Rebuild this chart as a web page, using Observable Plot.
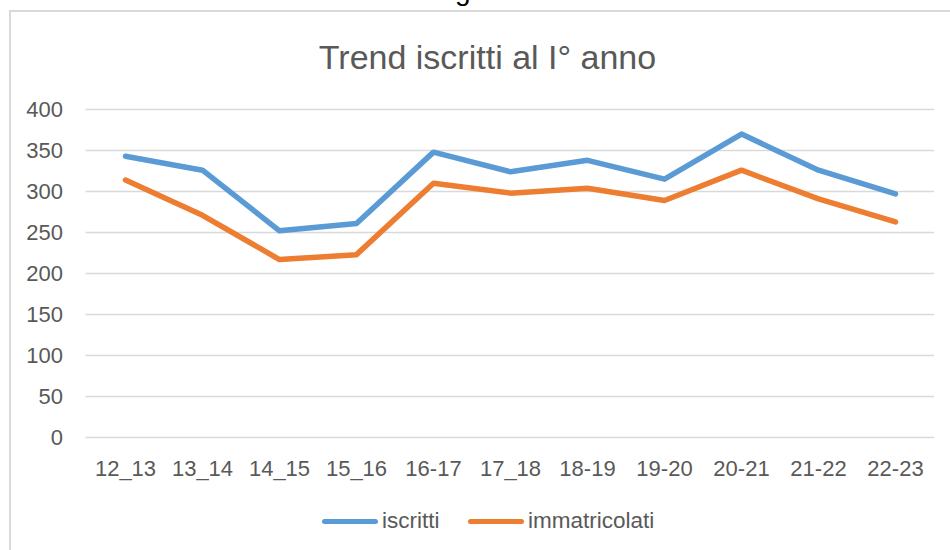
<!DOCTYPE html>
<html>
<head>
<meta charset="utf-8">
<script src="https://cdn.jsdelivr.net/npm/d3@7"></script>
<script src="https://cdn.jsdelivr.net/npm/@observablehq/plot@0.6"></script>
<style>
  html, body { margin: 0; padding: 0; background: #fff; }
  body { width: 950px; height: 550px; position: relative; overflow: hidden; font-family: "Liberation Sans", Arial, sans-serif; }
  #frame { position: absolute; left: 9px; top: 10px; width: 1000px; height: 600px; border-left: 2px solid #d9d9d9; border-top: 2px solid #d9d9d9; box-sizing: border-box; }
  #frag { position: absolute; left: 455px; top: -25px; font-size: 28px; line-height: 32px; color: #000; font-family: "Liberation Sans", Arial, sans-serif; }
  #title { position: absolute; left: 0; width: 975px; top: 37px; text-align: center; font-size: 34px; color: #595959; line-height: 40px; }
  #chart { position: absolute; left: 0; top: 90px; }
  #legend { position: absolute; top: 508px; left: 0; width: 950px; height: 26px; font-size: 22.5px; color: #595959; }
  .sw { position: absolute; height: 5px; border-radius: 3px; top: 11px; }
  .lt { position: absolute; top: 0; line-height: 26px; }
</style>
</head>
<body>
<div id="frame"></div>
<div id="frag">g</div>
<div id="title">Trend iscritti al I° anno</div>
<div id="chart"></div>
<div id="legend"></div>
<script>
const categories = ["12_13","13_14","14_15","15_16","16-17","17_18","18-19","19-20","20-21","21-22","22-23"];
const iscritti = [343, 326, 252, 261, 348, 324, 338, 315, 370, 326, 297];
const immatricolati = [314, 271, 217, 223, 310, 298, 304, 289, 326, 291, 263];
const yTicks = [0, 50, 100, 150, 200, 250, 300, 350, 400];
const seriesNames = ["iscritti", "immatricolati"];
const seriesColors = ["#5B9BD5", "#ED7D31"];

const rows = [];
categories.forEach((c, i) => {
  rows.push({cat: c, value: iscritti[i], series: seriesNames[0]});
  rows.push({cat: c, value: immatricolati[i], series: seriesNames[1]});
});

const chart = Plot.plot({
  width: 950,
  height: 400,
  marginLeft: 85.5,
  marginRight: 16,
  marginTop: 19,
  marginBottom: 53,
  style: {fontFamily: '"Liberation Sans", Arial, sans-serif', fontSize: "22px", color: "#595959", background: "transparent"},
  x: {type: "point", domain: categories, padding: 0.5},
  y: {domain: [0, 400]},
  color: {domain: seriesNames, range: seriesColors},
  marks: [
    Plot.gridY(yTicks, {stroke: "#d9d9d9", strokeOpacity: 1, strokeWidth: 1.5}),
    Plot.axisY(yTicks, {tickSize: 0, tickPadding: 23, label: null, fill: "#595959", fontSize: 22}),
    Plot.axisX({tickSize: 0, tickPadding: 23, label: null, fill: "#595959", fontSize: 22}),
    Plot.line(rows, {x: "cat", y: "value", z: "series", stroke: "series", strokeWidth: 5.5, strokeLinejoin: "round", strokeLinecap: "round"})
  ]
});
document.getElementById("chart").appendChild(chart);

const legend = document.getElementById("legend");
const legendPos = [{sw: 322, txt: 382}, {sw: 468, txt: 528}];
seriesNames.forEach((name, i) => {
  const sw = document.createElement("div");
  sw.className = "sw";
  sw.style.left = legendPos[i].sw + "px";
  sw.style.width = "56px";
  sw.style.background = seriesColors[i];
  legend.appendChild(sw);
  const t = document.createElement("div");
  t.className = "lt";
  t.style.left = legendPos[i].txt + "px";
  t.textContent = name;
  legend.appendChild(t);
});
</script>
</body>
</html>
